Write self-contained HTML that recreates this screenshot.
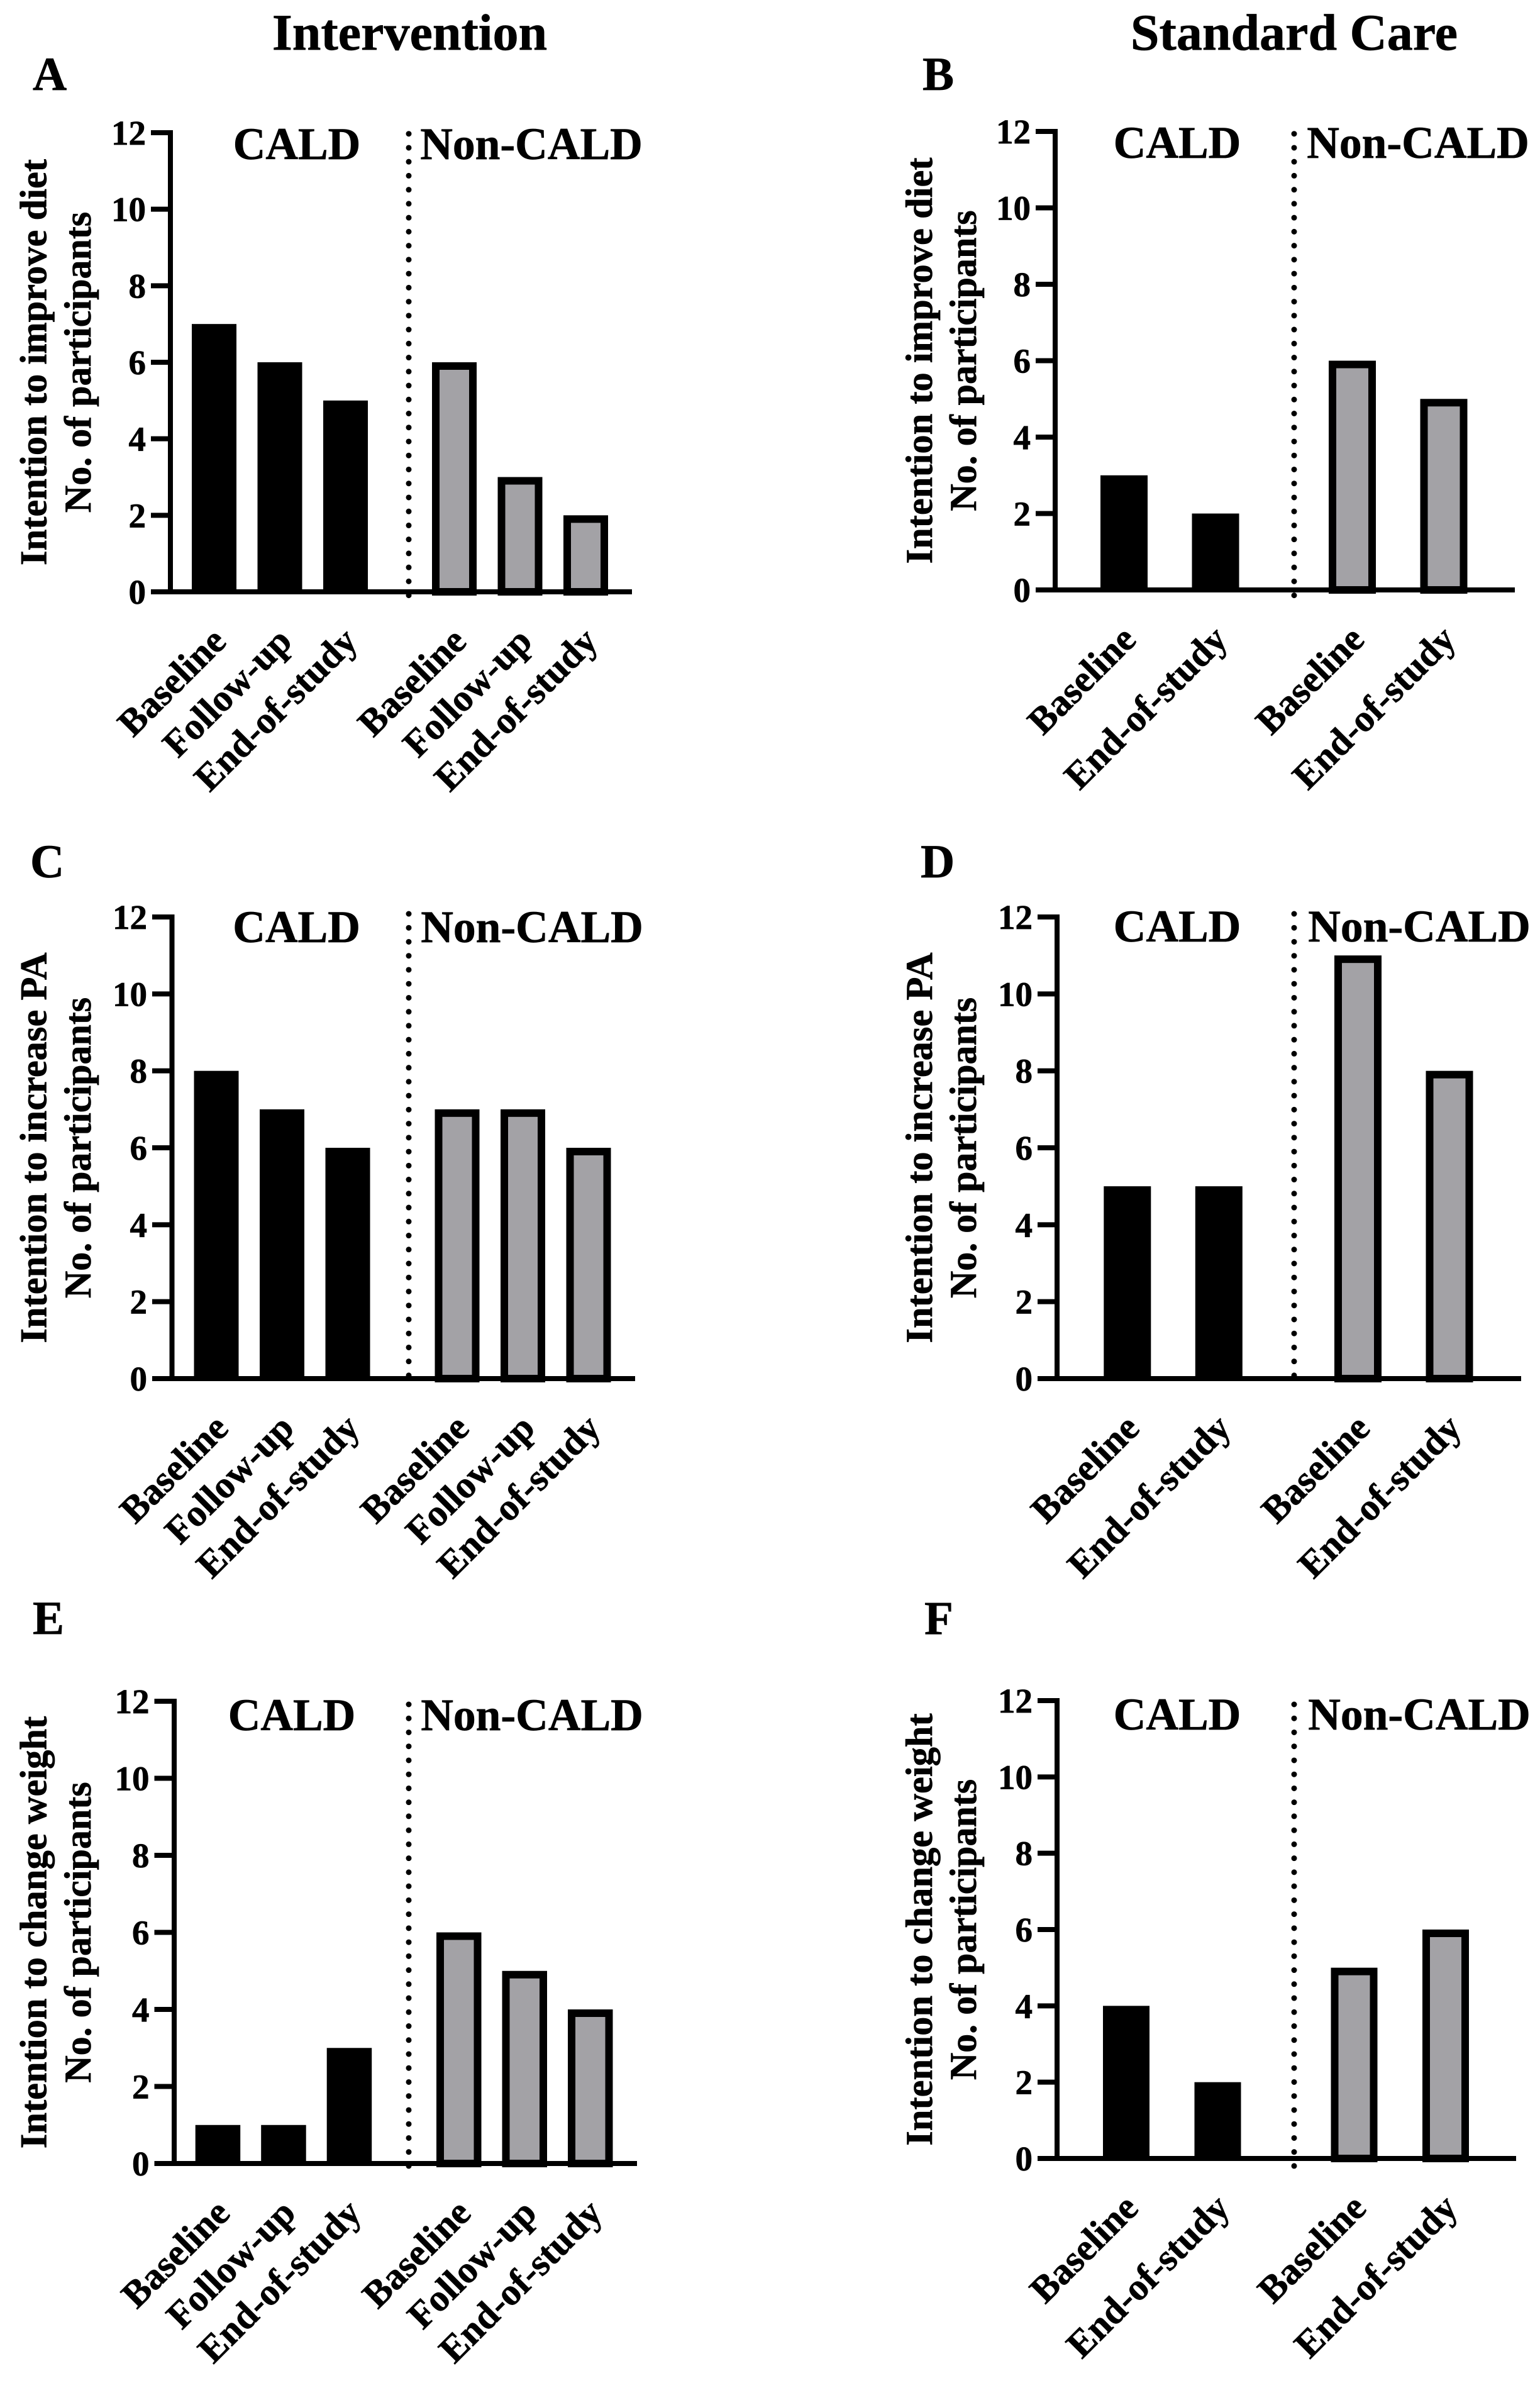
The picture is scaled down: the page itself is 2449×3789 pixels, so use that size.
<!DOCTYPE html>
<html lang="en">
<head>
<meta charset="utf-8">
<title>Intention to change behaviour by group</title>
<style>
html,body{margin:0;padding:0;background:#fff;}
svg{display:block;}
text{font-family:"Liberation Serif",serif;font-weight:bold;fill:#000;stroke:#000;stroke-width:0.7px;}
</style>
</head>
<body>
<svg id="figure" xmlns="http://www.w3.org/2000/svg" width="2449" height="3789" viewBox="0 0 2449 3789">
<rect width="2449" height="3789" fill="#fff"/>
<text x="651.5" y="79" font-size="82" text-anchor="middle">Intervention</text>
<text x="2058" y="79" font-size="82" text-anchor="middle">Standard Care</text>
</svg>
<script>
const yTickLabels = [0, 2, 4, 6, 8, 10, 12];
const categoriesThree = ['Baseline', 'Follow-up', 'End-of-study'];
const categoriesTwo = ['Baseline', 'End-of-study'];

const panelACald = [7, 6, 5];
const panelANonCald = [6, 3, 2];
const panelBCald = [3, 2];
const panelBNonCald = [6, 5];
const panelCCald = [8, 7, 6];
const panelCNonCald = [7, 7, 6];
const panelDCald = [5, 5];
const panelDNonCald = [11, 8];
const panelECald = [1, 1, 3];
const panelENonCald = [6, 5, 4];
const panelFCald = [4, 2];
const panelFNonCald = [5, 6];

const panels = [
  {id:'a', letter:'A', lx:52, ly:143, axisX:271, tickX:240, endX:1005, top:211, base:941, blackX:305, grayX:687, step:104.5, w:71, divX:650, divTop:212.7, caldX:472, nonX:845, groupY:253, l1:'Intention to improve diet', t1:73.6, t2:143.8, cats:categoriesThree, cald:panelACald, non:panelANonCald},
  {id:'b', letter:'B', lx:1467, ly:143, axisX:1678, tickX:1647, endX:2409, top:209, base:938, blackX:1750, grayX:2113, step:145.5, w:75, divX:2058, divTop:212.7, caldX:1872, nonX:2255, groupY:251, l1:'Intention to improve diet', t1:1481.8, t2:1552, cats:categoriesTwo, cald:panelBCald, non:panelBNonCald},
  {id:'c', letter:'C', lx:48, ly:1395, axisX:273.5, tickX:242, endX:1010, top:1458, base:2192, blackX:308.5, grayX:691.5, step:104.5, w:71, divX:650, divTop:1453, caldX:471.6, nonX:846, groupY:1498, l1:'Intention to increase PA', t1:73.6, t2:143.8, cats:categoriesThree, cald:panelCCald, non:panelCNonCald},
  {id:'d', letter:'D', lx:1464, ly:1395, axisX:1681, tickX:1650, endX:2419, top:1458, base:2192, blackX:1755.3, grayX:2122, step:145.5, w:75, divX:2058, divTop:1453, caldX:1872, nonX:2257, groupY:1497, l1:'Intention to increase PA', t1:1481.8, t2:1552, cats:categoriesTwo, cald:panelDCald, non:panelDNonCald},
  {id:'e', letter:'E', lx:52, ly:2598, axisX:277, tickX:245.5, endX:1013, top:2705, base:3440, blackX:310.7, grayX:694, step:104.5, w:71.5, divX:650, divTop:2710, caldX:464, nonX:846, groupY:2751, l1:'Intention to change weight', t1:73.6, t2:143.8, cats:categoriesThree, cald:panelECald, non:panelENonCald},
  {id:'f', letter:'F', lx:1470, ly:2598, axisX:1681, tickX:1650, endX:2411, top:2704, base:3432, blackX:1754, grayX:2116.5, step:145.5, w:74, divX:2058, divTop:2710, caldX:1872, nonX:2257, groupY:2750, l1:'Intention to change weight', t1:1481.8, t2:1552, cats:categoriesTwo, cald:panelFCald, non:panelFNonCald}
];

const svg = document.getElementById('figure');
const NS = 'http://www.w3.org/2000/svg';
const AXIS_W = 8;
const BORDER_W = 12;
const GRAY = '#a3a2a6';
const DOT_STEP = 22.24;
const DOT_COUNT = 33;

function make(tag, parent, props, content) {
  const el = document.createElementNS(NS, tag);
  for (const k in props) el.setAttribute(k, props[k]);
  if (content !== undefined) el.textContent = content;
  parent.appendChild(el);
  return el;
}

function drawPanel(p) {
  const g = make('g', svg, {});
  
  

  const yScale = v => p.base + (p.top - p.base) * v / 12;

  const letter = make('text', g, {x: p.lx, y: p.ly, 'font-size': 75}, p.letter);
  
  

  const midY = (p.top + p.base) / 2;
  const t1 = make('text', g, {'font-size': 60.5, 'text-anchor': 'middle', transform: `translate(${p.t1},${midY}) rotate(-90)`}, p.l1);
  
  
  const t2 = make('text', g, {'font-size': 60, 'text-anchor': 'middle', transform: `translate(${p.t2},${midY}) rotate(-90)`}, 'No. of participants');
  
  

  const drawBars = (values, startX, kind) => {
    values.forEach((v, i) => {
      const x = startX + i * p.step;
      const cx = x + p.w / 2;
      const y = yScale(v);
      const h = p.base - y;
      let bar;
      if (kind === 'cald') {
        bar = make('rect', g, {x: x, y: y, width: p.w, height: h, fill: '#000'});
      } else {
        bar = make('rect', g, {x: x + BORDER_W / 2, y: y + BORDER_W / 2, width: p.w - BORDER_W, height: h - BORDER_W / 2, fill: GRAY, stroke: '#000', 'stroke-width': BORDER_W});
      }
      
      

      const label = make('text', g, {'font-size': 60, 'text-anchor': 'end', transform: `translate(${cx + 22},${p.base + 82}) rotate(-45)`}, p.cats[i]);
      
      
    });
  };
  drawBars(p.cald, p.blackX, 'cald');
  drawBars(p.non, p.grayX, 'non-cald');

  const yAxis = make('line', g, {x1: p.axisX, x2: p.axisX, y1: p.top - AXIS_W / 2, y2: p.base + AXIS_W / 2, stroke: '#000', 'stroke-width': AXIS_W});
  
  
  const xAxis = make('line', g, {x1: p.axisX, x2: p.endX, y1: p.base, y2: p.base, stroke: '#000', 'stroke-width': AXIS_W});
  
  

  yTickLabels.forEach(v => {
    const y = yScale(v);
    const tick = make('line', g, {x1: p.tickX, x2: p.axisX, y1: y, y2: y, stroke: '#000', 'stroke-width': AXIS_W});
    
    
    const lab = make('text', g, {x: p.tickX - 8, y: y + 19, 'font-size': 55, 'text-anchor': 'end'}, v);
    
    
  });

  const divider = make('line', g, {x1: p.divX, x2: p.divX, y1: p.divTop, y2: p.divTop + DOT_STEP * DOT_COUNT + 1, stroke: '#000', 'stroke-width': 9, 'stroke-linecap': 'round', 'stroke-dasharray': '0 ' + DOT_STEP});
  
  

  const cald = make('text', g, {x: p.caldX, y: p.groupY, 'font-size': 71.5, 'text-anchor': 'middle'}, 'CALD');
  
  
  const non = make('text', g, {x: p.nonX, y: p.groupY, 'font-size': 71.5, 'text-anchor': 'middle'}, 'Non-CALD');
  
  
}

panels.forEach(drawPanel);
</script>
</body>
</html>
